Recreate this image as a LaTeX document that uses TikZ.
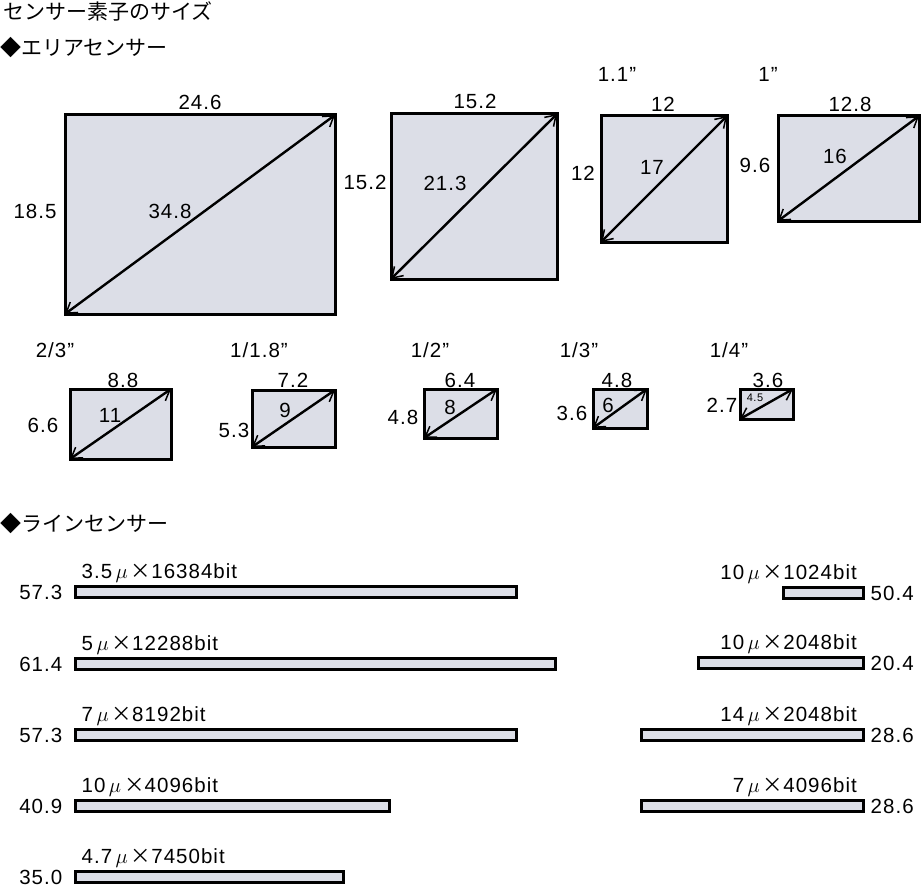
\documentclass[tikz,border=0pt]{standalone}
\usepackage{fontspec}
\setmainfont{Liberation Sans}[LetterSpace=5]
\newfontfamily\jp{Noto Sans CJK JP}
\usetikzlibrary{arrows.meta}
\definecolor{cellfill}{HTML}{DCDEE7}
\newcommand{\umx}{\,$\mu$\hspace{3pt}{\jp ×}}
\tikzset{
        >={Straight Barb[length=10pt,width=13pt,line width=1.5pt]},
        sensor/.style = {draw, line width=3pt, fill=cellfill, inner sep=0pt, outer sep=0pt},
        bar/.style = {sensor, minimum height=11pt},
        diag/.style = {<->, line width=2.4pt},
        dim/.style = {font=\fontsize{20.5}{22}\selectfont, inner sep=0pt},
        tiny/.style = {font=\fontsize{11}{12}\selectfont, inner sep=0pt},
        head/.style = {font=\jp\fontsize{21}{23}\selectfont, inner sep=0pt}
}

\begin{document}
\begin{tikzpicture}[x=1pt,y=-1pt]
        \useasboundingbox (0,0) rectangle (922,891);

        % Headings
        \node[head, anchor=base west] (title) at (3,20) {センサー素子のサイズ};
        \node[head, anchor=base west] (area) at (0,56) {◆エリアセンサー};
        \node[head, anchor=base west] (line) at (0,531) {◆ラインセンサー};

        % Area sensors, first row
        \node[sensor, minimum width=270pt, minimum height=199pt] (ff) at (200,214.5) {};
        \draw[diag] (ff.south west) -- (ff.north east);
        \node[dim, anchor=base] (ffw) at (200,110) {24.6};
        \node[dim, anchor=base] (ffh) at (35,218) {18.5};
        \node[dim, anchor=base] (ffd) at (170,218) {34.8};

        \node[sensor, minimum width=166pt, minimum height=165pt] (aps) at (474,196.5) {};
        \draw[diag] (aps.south west) -- (aps.north east);
        \node[dim, anchor=base] (apsw) at (475,109) {15.2};
        \node[dim, anchor=base] (apsh) at (365,189) {15.2};
        \node[dim, anchor=base] (apsd) at (445,190) {21.3};

        \node[sensor, minimum width=126pt, minimum height=126pt] (in11) at (664,179) {};
        \draw[diag] (in11.south west) -- (in11.north east);
        \node[dim, anchor=base] (in11t) at (617,82) {1.1”};
        \node[dim, anchor=base] (in11w) at (663,112) {12};
        \node[dim, anchor=base] (in11h) at (583,180) {12};
        \node[dim, anchor=base] (in11d) at (652,175) {17};

        \node[sensor, minimum width=141pt, minimum height=105pt] (in1) at (848.5,168.5) {};
        \draw[diag] (in1.south west) -- (in1.north east);
        \node[dim, anchor=base] (in1t) at (768,82) {1”};
        \node[dim, anchor=base] (in1w) at (850,112) {12.8};
        \node[dim, anchor=base] (in1h) at (755,172) {9.6};
        \node[dim, anchor=base] (in1d) at (835,164) {16};

        % Area sensors, second row
        \node[sensor, minimum width=101pt, minimum height=70pt] (in23) at (120.5,424) {};
        \draw[diag] (in23.south west) -- (in23.north east);
        \node[dim, anchor=base] (in23t) at (55,357) {2/3”};
        \node[dim, anchor=base] (in23w) at (123,387) {8.8};
        \node[dim, anchor=base] (in23h) at (43,432) {6.6};
        \node[dim, anchor=base] (in23d) at (110,422) {11};

        \node[sensor, minimum width=83pt, minimum height=57pt] (in118) at (293.5,418.5) {};
        \draw[diag] (in118.south west) -- (in118.north east);
        \node[dim, anchor=base] (in118t) at (259,357) {1/1.8”};
        \node[dim, anchor=base] (in118w) at (293,387) {7.2};
        \node[dim, anchor=base] (in118h) at (234,437) {5.3};
        \node[dim, anchor=base] (in118d) at (285,417) {9};

        \node[sensor, minimum width=73pt, minimum height=49pt] (in12) at (460.5,413.5) {};
        \draw[diag] (in12.south west) -- (in12.north east);
        \node[dim, anchor=base] (in12t) at (430,357) {1/2”};
        \node[dim, anchor=base] (in12w) at (460,387) {6.4};
        \node[dim, anchor=base] (in12h) at (403,424) {4.8};
        \node[dim, anchor=base] (in12d) at (450,414) {8};

        \node[sensor, minimum width=54pt, minimum height=39pt] (in13) at (620,408.5) {};
        \draw[diag] (in13.south west) -- (in13.north east);
        \node[dim, anchor=base] (in13t) at (579,357) {1/3”};
        \node[dim, anchor=base] (in13w) at (617,387) {4.8};
        \node[dim, anchor=base] (in13h) at (572,420) {3.6};
        \node[dim, anchor=base] (in13d) at (608,412) {6};

        \node[sensor, minimum width=53pt, minimum height=30pt] (in14) at (766.5,404) {};
        \draw[diag] (in14.south west) -- (in14.north east);
        \node[dim, anchor=base] (in14t) at (729,357) {1/4”};
        \node[dim, anchor=base] (in14w) at (768,387) {3.6};
        \node[dim, anchor=base] (in14h) at (722,412) {2.7};
        \node[tiny] (in14d) at (755,398) {4.5};

        % Line sensors, left column
        \node[bar, minimum width=441pt] (l16384) at (296,592) {};
        \node[dim, anchor=base west] at ([shift={(6pt,8pt)}]l16384.north west) {3.5\umx16384bit};
        \node[dim, anchor=base east] at ([shift={(-13pt,-2pt)}]l16384.south west) {57.3};

        \node[bar, minimum width=480pt] (l12288) at (315.5,663.5) {};
        \node[dim, anchor=base west] at ([shift={(6pt,8pt)}]l12288.north west) {5\umx12288bit};
        \node[dim, anchor=base east] at ([shift={(-13pt,-2pt)}]l12288.south west) {61.4};

        \node[bar, minimum width=441pt] (l8192) at (296,735) {};
        \node[dim, anchor=base west] at ([shift={(6pt,8pt)}]l8192.north west) {7\umx8192bit};
        \node[dim, anchor=base east] at ([shift={(-13pt,-2pt)}]l8192.south west) {57.3};

        \node[bar, minimum width=314pt] (l4096a) at (232.5,806) {};
        \node[dim, anchor=base west] at ([shift={(6pt,8pt)}]l4096a.north west) {10\umx4096bit};
        \node[dim, anchor=base east] at ([shift={(-13pt,-2pt)}]l4096a.south west) {40.9};

        \node[bar, minimum width=268pt] (l7450) at (209.5,877) {};
        \node[dim, anchor=base west] at ([shift={(6pt,8pt)}]l7450.north west) {4.7\umx7450bit};
        \node[dim, anchor=base east] at ([shift={(-13pt,-2pt)}]l7450.south west) {35.0};

        % Line sensors, right column
        \node[bar, minimum width=80pt] (l1024) at (823.5,592.5) {};
        \node[dim, anchor=base east] at ([shift={(-6.5pt,8pt)}]l1024.north east) {10\umx1024bit};
        \node[dim, anchor=base west] at ([shift={(7pt,-2pt)}]l1024.south east) {50.4};

        \node[bar, minimum width=165pt] (l2048a) at (781,663) {};
        \node[dim, anchor=base east] at ([shift={(-6.5pt,8pt)}]l2048a.north east) {10\umx2048bit};
        \node[dim, anchor=base west] at ([shift={(7pt,-2pt)}]l2048a.south east) {20.4};

        \node[bar, minimum width=222pt] (l2048b) at (752.5,735) {};
        \node[dim, anchor=base east] at ([shift={(-6.5pt,8pt)}]l2048b.north east) {14\umx2048bit};
        \node[dim, anchor=base west] at ([shift={(7pt,-2pt)}]l2048b.south east) {28.6};

        \node[bar, minimum width=222pt] (l4096b) at (752.5,806) {};
        \node[dim, anchor=base east] at ([shift={(-6.5pt,8pt)}]l4096b.north east) {7\umx4096bit};
        \node[dim, anchor=base west] at ([shift={(7pt,-2pt)}]l4096b.south east) {28.6};

\end{tikzpicture}
\end{document}
